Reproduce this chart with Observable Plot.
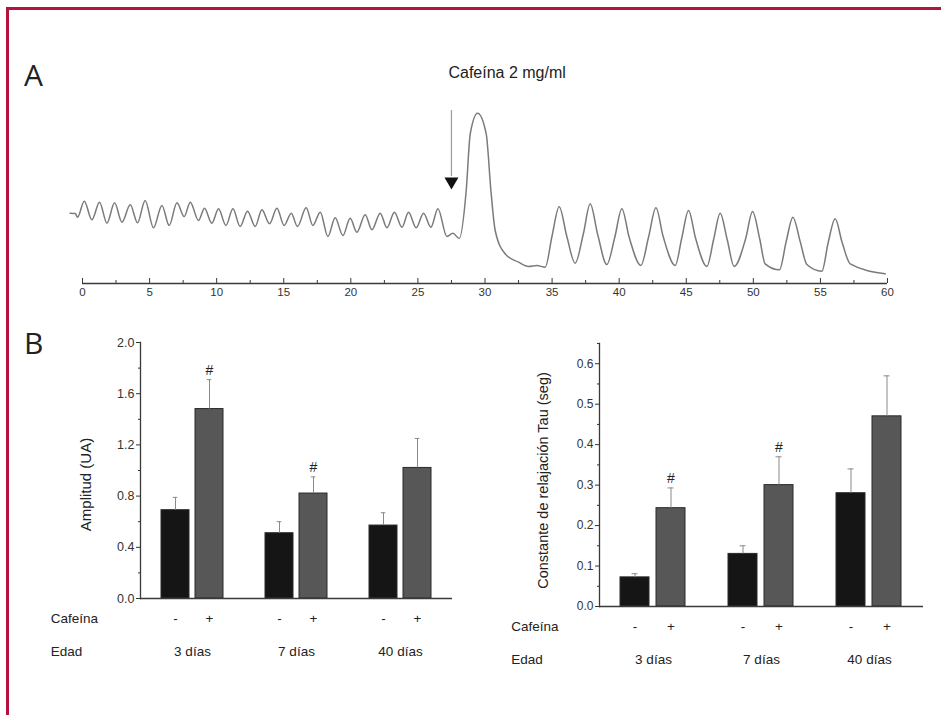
<!DOCTYPE html>
<html><head><meta charset="utf-8">
<script src="https://cdn.jsdelivr.net/npm/d3@7"></script>
<script src="https://cdn.jsdelivr.net/npm/@observablehq/plot@0.6"></script>
<style>
html,body{margin:0;padding:0;background:#fff;overflow:hidden;}
#page{position:relative;width:941px;height:715px;overflow:hidden;background:#fff;font-family:"Liberation Sans",Arial,sans-serif;}
.bar{position:absolute;background:#b5123e;}
.panel{position:absolute;font-family:"Open Sans",sans-serif;font-size:30px;line-height:30px;color:#222;}
.plot{position:absolute;}
</style></head><body>
<div id="page">
 <div class="bar" style="left:6px;top:7px;width:935px;height:3px"></div>
 <div class="bar" style="left:6px;top:7px;width:3px;height:708px"></div>
 <div class="panel" style="left:24px;top:60px">A</div>
 <div class="panel" style="left:24px;top:328px">B</div>
 <div class="plot" id="trace" style="left:0;top:60px"></div>
 <div class="plot" id="amp" style="left:0;top:330px"></div>
 <div class="plot" id="tau" style="left:470px;top:330px"></div>
</div>
<script>
// ---- Panel A: calcium trace (time in s, signal in arbitrary units) ----
const traceTime = [-0.92,-0.54,-0.37,0.13,0.70,1.27,1.82,2.39,2.94,3.56,4.10,4.67,5.29,5.92,6.46,7.04,7.58,8.03,8.65,9.09,9.64,10.14,10.69,11.21,11.75,12.30,12.87,13.37,13.94,14.49,15.03,15.56,16.02,16.67,17.17,17.72,18.29,18.83,19.41,19.95,20.45,21.07,21.57,22.19,22.69,23.25,23.81,24.30,24.87,25.42,25.97,26.49,27.16,27.61,28.08,28.60,28.90,29.45,30.09,30.44,30.76,31.50,32.50,33.24,33.87,34.49,34.99,35.53,36.10,36.72,37.32,37.84,38.40,39.08,39.67,40.20,40.75,41.62,42.20,42.74,43.28,44.18,44.66,45.17,45.70,46.54,47.04,47.53,48.05,48.57,49.43,49.94,50.47,50.88,51.95,52.45,52.95,53.49,53.99,55.11,55.58,56.10,56.62,57.22,59.83];
const traceValue = [70.3,70,66.3,82.3,63.7,81.3,60.3,80.7,61.3,78.7,60.7,83,55.7,78,58,80.7,67,81.3,63,75.3,60.3,74.7,58,74.7,57,72.3,57,73.7,59.7,75.3,58,70.3,57,75.7,58,71.3,47,65.7,48,65.3,51.3,68.7,53.7,70.3,55.7,71.3,56.3,71.3,55.7,70.3,56.3,74.7,47,50.3,45,93,149.7,170.3,149.7,93,53,29.7,21.3,17,18,16.3,47,76.7,47,20.3,49,79.7,49,19,46,74.7,46,18,47,75.7,47,18,45,73,45,17,44,70.3,44,17,45,72,45,19.7,13.7,42,66.3,42,19,12.3,41,64.7,41,19.7,9.7];
const timeMajorTicks = [0,5,10,15,20,25,30,35,40,45,50,55,60];
const timeMinorTicks = [2.5,7.5,12.5,17.5,22.5,27.5,32.5,37.5,42.5,47.5,52.5,57.5];
const caffeineTime = 27.5;
const caffeineLabel = "Cafeína 2 mg/ml";
const caffeineLabelTime = 31.65;
const caffeineLabelValue = 211;
const arrowFromValue = 173;
const arrowToValue = 107;
const arrowHeadValue = 102;

// ---- Panel B: bar charts ----
const edadLabels = ["3 días", "7 días", "40 días"];
const cafeinaLabels = ["-", "+"];
const barEdad = ["3 días","3 días","7 días","7 días","40 días","40 días"];
const barCafeina = ["-","+","-","+","-","+"];
const amplitudMean = [0.69, 1.48, 0.51, 0.82, 0.57, 1.02];
const amplitudErr  = [0.10, 0.23, 0.09, 0.13, 0.10, 0.23];
const amplitudSig  = [false, true, false, true, false, false];
const tauMean = [0.072, 0.243, 0.13, 0.30, 0.28, 0.47];
const tauErr  = [0.009, 0.05, 0.02, 0.07, 0.06, 0.10];
const tauSig  = [false, true, false, true, false, false];
const amplitudMajorTicks = [0, 0.4, 0.8, 1.2, 1.6, 2.0];
const amplitudMinorTicks = [0.2, 0.6, 1.0, 1.4, 1.8];
const tauMajorTicks = [0, 0.1, 0.2, 0.3, 0.4, 0.5, 0.6];
const tauMinorTicks = [0.05, 0.15, 0.25, 0.35, 0.45, 0.55, 0.65];

const font = '"Liberation Sans", Arial, Helvetica, sans-serif';
const axisColor = "#3a3a3a";

const trace = traceTime.map((t, i) => ({t, v: traceValue[i]}));

const tracePlot = Plot.plot({
  width: 941, height: 260,
  marginLeft: 82, marginRight: 54, marginTop: 48, marginBottom: 37,
  style: {fontFamily: font, fontSize: "11px", color: "#333", background: "transparent", overflow: "visible"},
  x: {domain: [0, 60], axis: null},
  y: {domain: [0, 175], axis: null},
  marks: [
    Plot.ruleY([0], {stroke: axisColor, strokeWidth: 1.3}),
    Plot.ruleX(timeMajorTicks, {x: d => d, y1: 0, y2: 5, stroke: axisColor}),
    Plot.ruleX(timeMinorTicks, {x: d => d, y1: 0, y2: 3, stroke: axisColor}),
    Plot.text(timeMajorTicks, {x: d => d, frameAnchor: "bottom", dy: 12.5, text: d => String(d), fill: "#333", fontSize: 11.5}),
    Plot.line(trace, {x: "t", y: "v", curve: "monotone-x", stroke: "#7a7a7a", strokeWidth: 1.5}),
    Plot.ruleX([caffeineTime], {x: d => d, y1: arrowFromValue, y2: arrowToValue, stroke: "#9a9a9a", strokeWidth: 1.2}),
    Plot.dot([caffeineTime], {x: d => d, y: arrowHeadValue, symbol: "triangle", rotate: 180, r: 5.2, fill: "#111", stroke: null}),
    Plot.text([caffeineLabel], {x: caffeineLabelTime, y: caffeineLabelValue, text: d => d, fontSize: 16, fill: "#222"})
  ]
});
document.getElementById("trace").appendChild(tracePlot);

function barChart(mean, err, sig, o) {
  const rows = barEdad.map((e, i) => ({edad: e, caf: barCafeina[i], mean: mean[i], err: err[i], sig: sig[i]}));
  return Plot.plot({
    width: o.width, height: o.height,
    marginLeft: o.ml, marginRight: o.mr, marginTop: o.mt, marginBottom: o.mb,
    style: {fontFamily: font, fontSize: "12px", color: "#333", background: "transparent", overflow: "visible"},
    fx: {domain: edadLabels, padding: 0, axis: null},
    x: {domain: cafeinaLabels, paddingInner: o.pi, paddingOuter: o.po, axis: null},
    y: {domain: o.yDomain},
    color: {domain: cafeinaLabels, range: ["#151515", "#575757"]},
    marks: [
      Plot.barY(rows, {fx: "edad", x: "caf", y: "mean", fill: "caf", stroke: "#2a2a2a", strokeWidth: 1}),
      Plot.ruleX(rows, {fx: "edad", x: "caf", y1: "mean", y2: d => d.mean + d.err, stroke: "#8a8a8a", strokeWidth: 1}),
      Plot.tickY(rows, {fx: "edad", x: "caf", y: d => d.mean + d.err, stroke: "#8a8a8a", strokeWidth: 1, insetLeft: o.cap, insetRight: o.cap}),
      Plot.text(rows.filter(d => d.sig), {fx: "edad", x: "caf", y: d => d.mean + d.err, text: () => "#", dy: -9, fontSize: 14, fill: "#222"}),
      Plot.ruleY([0], {stroke: axisColor, strokeWidth: 1.3}),
      Plot.frame({anchor: "left", facetAnchor: "left", stroke: axisColor, strokeWidth: 1.3}),
      Plot.axisY({ticks: o.major, tickSize: 4, tickPadding: 2, tickFormat: d3.format(".1f"), label: null, fontSize: o.tickFont, color: "#333"}),
      Plot.axisY({ticks: o.minor, tickSize: 2, tickFormat: () => "", label: null, color: "#333"}),
      Plot.text(rows, {fx: "edad", x: "caf", text: "caf", frameAnchor: "bottom", dy: 24, fontSize: 13.5, fill: "#222"}),
      Plot.text(edadLabels, {fx: d => d, text: d => d, frameAnchor: "bottom", dy: 57, fontSize: 13.5, fill: "#222"}),
      Plot.text(["Cafeína"], {frameAnchor: "bottom-left", facetAnchor: "left", textAnchor: "start", dx: o.rowDx, dy: 24, fontSize: 13.5, fill: "#222"}),
      Plot.text(["Edad"], {frameAnchor: "bottom-left", facetAnchor: "left", textAnchor: "start", dx: o.rowDx, dy: 57, fontSize: 13.5, fill: "#222"}),
      Plot.text([o.yLabel], {frameAnchor: "left", facetAnchor: "left", textAnchor: "middle", lineAnchor: "middle", rotate: -90, dx: o.labelDx, dy: o.labelDy, fontSize: o.labelFont, fill: "#222"})
    ]
  });
}

document.getElementById("amp").appendChild(barChart(amplitudMean, amplitudErr, amplitudSig, {
  width: 470, height: 350, ml: 139, mr: 17, mt: 12, mb: 82,
  pi: 0.188, po: 0.585, cap: 11.7, yDomain: [0, 2.0],
  major: amplitudMajorTicks, minor: amplitudMinorTicks, tickFont: 12.5,
  rowDx: -89.7, yLabel: "Amplitud (UA)", labelDx: -54, labelDy: 14, labelFont: 15
}));

document.getElementById("tau").appendChild(barChart(tauMean, tauErr, tauSig, {
  width: 471, height: 360, ml: 129, mr: 18, mt: 13, mb: 84,
  pi: 0.194, po: 0.597, cap: 11.5, yDomain: [0, 0.65],
  major: tauMajorTicks, minor: tauMinorTicks, tickFont: 12,
  rowDx: -88.3, yLabel: "Constante de relajación Tau (seg)", labelDx: -55.7, labelDy: 5.5, labelFont: 14.5
}));
</script>
</body></html>
